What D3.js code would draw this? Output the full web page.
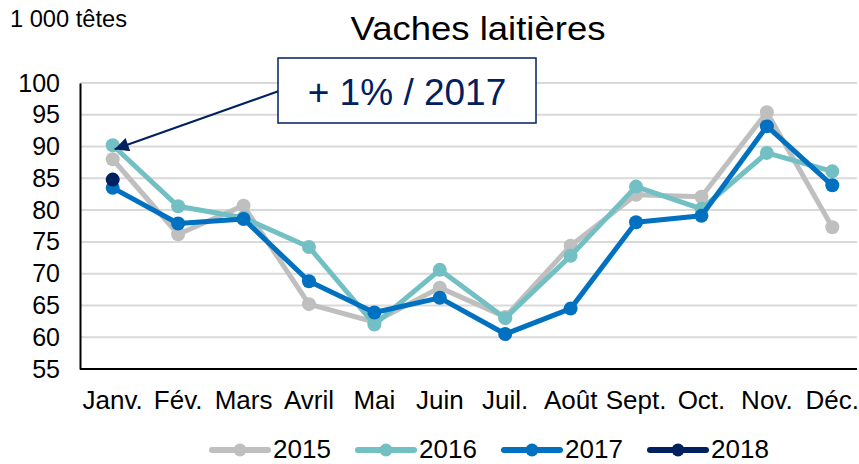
<!DOCTYPE html>
<html>
<head>
<meta charset="utf-8">
<script src="https://cdn.jsdelivr.net/npm/d3@7"></script>
<style>
  body { margin: 0; background: #fff; }
  text { font-family: "Liberation Sans", Arial, sans-serif; }
</style>
</head>
<body>
<div id="chart"></div>
<script>
// Données (1 000 têtes)
const months = ["Janv.", "Fév.", "Mars", "Avril", "Mai", "Juin", "Juil.", "Août", "Sept.", "Oct.", "Nov.", "Déc."];
const yTicks = [55, 60, 65, 70, 75, 80, 85, 90, 95, 100];
const v2015 = [88.0, 76.2, 80.7, 65.2, 62.4, 67.8, 63.2, 74.4, 82.4, 82.1, 95.4, 77.3];
const v2016 = [90.2, 80.6, 78.8, 74.2, 62.0, 70.6, 63.0, 72.8, 83.7, 80.2, 89.0, 86.1];
const v2017 = [83.5, 77.9, 78.6, 68.8, 63.9, 66.2, 60.5, 64.5, 78.1, 79.1, 93.2, 83.9];
const v2018 = [84.8];
const seriesNames = ["2015", "2016", "2017", "2018"];
const seriesColors = ["#bfbfbf", "#72bfc4", "#0070c0", "#002060"];
const annotation = "+ 1% / 2017";

const series = [v2015, v2016, v2017, v2018].map((vals, i) => ({
    name: seriesNames[i],
    color: seriesColors[i],
    values: vals.map((v, j) => ({ month: months[j], value: v }))
}));

const width = 859, height = 464;
const margin = { top: 83, right: 0, bottom: 95, left: 80 };

const x = d3.scaleBand()
    .domain(months)
    .range([margin.left, 865])
    .padding(0);

const y = d3.scaleLinear()
    .domain([55, 100])
    .range([height - margin.bottom, margin.top]);

const svg = d3.select("#chart")
    .append("svg")
    .attr("width", width)
    .attr("height", height);

// titres
svg.append("text")
    .attr("x", 10)
    .attr("y", 27)
    .attr("font-size", 23)
    .attr("textLength", 117)
    .attr("lengthAdjust", "spacingAndGlyphs")
    .attr("fill", "#000")
    .text("1 000 têtes");

svg.append("text")
    .attr("x", 478)
    .attr("y", 40)
    .attr("text-anchor", "middle")
    .attr("font-size", 33)
    .attr("textLength", 255)
    .attr("lengthAdjust", "spacingAndGlyphs")
    .attr("fill", "#000")
    .text("Vaches laitières");

// grille horizontale
svg.append("g")
    .selectAll("line")
    .data(yTicks.filter(d => d > 55))
    .join("line")
    .attr("x1", margin.left)
    .attr("x2", width - 2)
    .attr("y1", d => y(d))
    .attr("y2", d => y(d))
    .attr("stroke", "#d9d9d9")
    .attr("stroke-width", 2);

// axe Y
svg.append("g")
    .attr("transform", `translate(${margin.left},0)`)
    .call(d3.axisLeft(y).tickValues(yTicks).tickSize(0).tickPadding(20))
    .call(g => g.select(".domain").attr("stroke", "#000").attr("stroke-width", 2))
    .call(g => g.selectAll("text").attr("font-size", 25).attr("fill", "#000")
        .attr("font-family", "Liberation Sans, Arial, sans-serif"));

// axe X
svg.append("g")
    .attr("transform", `translate(0,${y(55)})`)
    .call(d3.axisBottom(x).tickSize(0).tickPadding(22))
    .call(g => g.select(".domain").attr("d", `M${margin.left},0H${width - 2}`)
        .attr("stroke", "#000").attr("stroke-width", 2))
    .call(g => g.selectAll("text").attr("font-size", 26).attr("fill", "#000")
        .attr("font-family", "Liberation Sans, Arial, sans-serif"));

// courbes
const line = d3.line()
    .x(d => x(d.month) + x.bandwidth() / 2)
    .y(d => y(d.value));

const sg = svg.append("g")
    .selectAll("g")
    .data(series)
    .join("g");

sg.append("path")
    .attr("d", d => line(d.values))
    .attr("fill", "none")
    .attr("stroke", d => d.color)
    .attr("stroke-width", 5)
    .attr("stroke-linejoin", "round");

sg.selectAll("circle")
    .data(d => d.values.map(v => ({ ...v, color: d.color })))
    .join("circle")
    .attr("cx", d => x(d.month) + x.bandwidth() / 2)
    .attr("cy", d => y(d.value))
    .attr("r", 7)
    .attr("fill", d => d.color);

// annotation
svg.append("defs").append("marker")
    .attr("id", "arrow")
    .attr("viewBox", "0 0 10 10")
    .attr("refX", 10)
    .attr("refY", 5)
    .attr("markerWidth", 9)
    .attr("markerHeight", 7)
    .attr("markerUnits", "strokeWidth")
    .attr("orient", "auto")
    .append("path")
    .attr("d", "M0,0L10,5L0,10Z")
    .attr("fill", "#002060");

const tipX = x(months[0]) + x.bandwidth() / 2 + 2;
const tipY = y(v2016[0]) + 4;

svg.append("line")
    .attr("x1", 279)
    .attr("y1", 91)
    .attr("x2", tipX)
    .attr("y2", tipY)
    .attr("stroke", "#002060")
    .attr("stroke-width", 2)
    .attr("marker-end", "url(#arrow)");

svg.append("rect")
    .attr("x", 278)
    .attr("y", 58)
    .attr("width", 258)
    .attr("height", 65)
    .attr("fill", "#fff")
    .attr("stroke", "#002060")
    .attr("stroke-width", 1.5);

svg.append("text")
    .attr("x", 407)
    .attr("y", 105)
    .attr("text-anchor", "middle")
    .attr("font-size", 37)
    .attr("fill", "#002060")
    .text(annotation);

// légende
const legendX = [212, 358, 504, 650];
const lg = svg.append("g")
    .selectAll("g")
    .data(series)
    .join("g")
    .attr("transform", (d, i) => `translate(${legendX[i]},450)`);

lg.append("line")
    .attr("x1", 0)
    .attr("x2", 56)
    .attr("stroke", d => d.color)
    .attr("stroke-width", 6)
    .attr("stroke-linecap", "round");

lg.append("circle")
    .attr("cx", 28)
    .attr("r", 6.5)
    .attr("fill", d => d.color);

lg.append("text")
    .attr("x", 61)
    .attr("y", 8)
    .attr("font-size", 26)
    .attr("fill", "#000")
    .text(d => d.name);
</script>
</body>
</html>
